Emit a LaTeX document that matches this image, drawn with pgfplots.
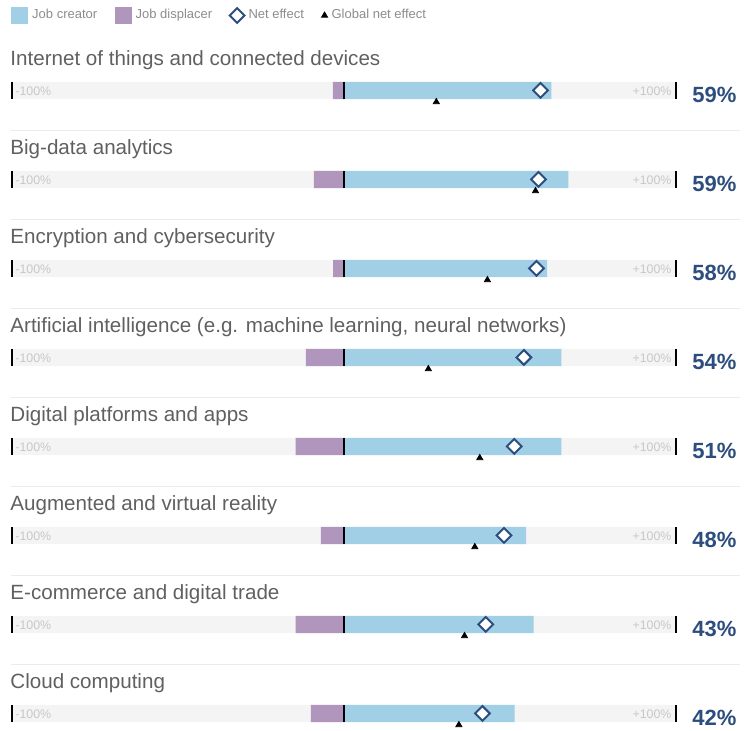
\documentclass[border=0pt]{standalone}
\usepackage{pgfplots}
\pgfplotsset{compat=1.18}
\usepackage{pgfplotstable}
\usepackage{fontspec}
\setmainfont{Liberation Sans}

\definecolor{creatorc}{HTML}{A0CFE6}
\definecolor{displc}{HTML}{B095BD}
\definecolor{bgc}{HTML}{F4F4F4}
\definecolor{netc}{HTML}{2C4D7D}
\definecolor{titlec}{HTML}{606060}
\definecolor{legc}{HTML}{8C8C8C}
\definecolor{endc}{HTML}{C8C8C8}
\definecolor{sepc}{HTML}{EBEBEB}

% net effect of each technology, in %
\pgfplotstableread{
row disp creator net global
1  -3.3  62.6  59.3  27.9
2  -9.0  67.7  58.7  57.8
3  -3.2  61.3  58.1  43.3
4  -11.4 65.6  54.3  25.5
5  -14.5 65.6  51.4  41.0
6  -6.9  55.0  48.3  39.5
7  -14.5 57.2  42.8  36.4
8  -9.9  51.5  41.8  34.7
}\datatable

\tikzset{
  netmark/.style={only marks, mark=square*, mark size=2.6pt,
    mark options={rotate=45, fill=white, draw=netc, line width=1pt}},
  globmark/.style={only marks, mark=triangle*, mark size=1.75pt,
    mark options={fill=black, draw=black}},
}

\begin{document}
\begin{tikzpicture}
\begin{axis}[
  scale only axis, width=376.5pt, height=365.5pt,
  xmin=-103.62, xmax=123.36, ymin=-0.0157, ymax=8.1978,
  y dir=reverse, axis lines=none, clip=false,
  legend columns=-1,
  legend style={at={(0.0146,0.9788)}, anchor=west, draw=none, fill=none,
    inner sep=0pt, font=\fontsize{6.5}{7}\selectfont, text=legc,
    nodes={inner xsep=2pt, inner ysep=0pt},
    /tikz/every even column/.append style={column sep=6.8pt}},
  legend cell align=left]

% keep the whole canvas as the bounding box
\path (rel axis cs:0,0) rectangle (rel axis cs:1,1);

% grey background track
\addplot[xbar, bar width=0.194, bar shift=0pt, fill=bgc, draw=none, forget plot]
  coordinates {(100,1)(100,2)(100,3)(100,4)(100,5)(100,6)(100,7)(100,8)};
\addplot[xbar, bar width=0.194, bar shift=0pt, fill=bgc, draw=none, forget plot]
  coordinates {(-100,1)(-100,2)(-100,3)(-100,4)(-100,5)(-100,6)(-100,7)(-100,8)};

\addplot[xbar, bar width=0.194, bar shift=0pt, fill=creatorc, draw=none,
  legend image code/.code={\fill[creatorc] (0pt,-4.2pt) rectangle (8.4pt,4.2pt);}]
  table[x=creator, y=row] {\datatable};
\addlegendentry{Job creator}
\addplot[xbar, bar width=0.194, bar shift=0pt, fill=displc, draw=none,
  legend image code/.code={\fill[displc] (0pt,-4.2pt) rectangle (8.4pt,4.2pt);}]
  table[x=disp, y=row] {\datatable};
\addlegendentry{Job displacer}

\pgfplotsinvokeforeach{1,...,8}{
  \draw[line width=1pt] (axis cs:0,#1-0.097) -- (axis cs:0,#1+0.097);
  \draw[line width=1pt] (axis cs:-100,#1-0.097) -- (axis cs:-100,#1+0.097);
  \draw[line width=1pt] (axis cs:100,#1-0.097) -- (axis cs:100,#1+0.097);
  \node[anchor=west, inner sep=0pt, text=endc, font=\fontsize{6.2}{7}\selectfont]
    at (axis cs:-99.1,#1+0.01) {-100\%};
  \node[anchor=east, inner sep=0pt, text=endc, font=\fontsize{6.2}{7}\selectfont]
    at (axis cs:98.9,#1+0.01) {+100\%};
}
\pgfplotsinvokeforeach{1,...,7}{
  \draw[sepc, line width=0.5pt] (axis cs:-100.3,#1+0.449) -- (axis cs:119.4,#1+0.449);
}

\addplot[only marks, mark=square*, mark size=2.6pt,
  mark options={rotate=45, fill=white, draw=netc, line width=1pt},
  legend image code/.code={\draw[netmark] plot coordinates {(4.5pt,0pt)};}]
  table[x=net, y=row] {\datatable};
\addlegendentry{Net effect}
\addplot[only marks, mark=triangle*, mark size=1.75pt,
  mark options={fill=black, draw=black},
  legend image code/.code={\draw[globmark] plot coordinates {(2pt,0pt)};}]
  table[x=global, y expr=\thisrow{row}+0.13] {\datatable};
\addlegendentry{Global net effect}

% row titles
\begin{scope}[every node/.style={anchor=base west, inner sep=0pt, text=titlec,
    font=\fontsize{10.3}{12}\selectfont}]
\node at (axis cs:-100.6,1-0.279) {Internet of things and connected devices};
\node at (axis cs:-100.6,2-0.279) {Big-data analytics};
\node at (axis cs:-100.6,3-0.279) {Encryption and cybersecurity};
\node at (axis cs:-100.6,4-0.279) {Artificial intelligence (e.g. machine learning, neural networks)};
\node at (axis cs:-100.6,5-0.279) {Digital platforms and apps};
\node at (axis cs:-100.6,6-0.279) {Augmented and virtual reality};
\node at (axis cs:-100.6,7-0.279) {E-commerce and digital trade};
\node at (axis cs:-100.6,8-0.279) {Cloud computing};
\end{scope}

% net effect values
\begin{scope}[every node/.style={anchor=base west, inner sep=0pt, text=netc,
    font=\fontsize{11}{12}\selectfont\bfseries}]
\node at (axis cs:104.97,1+0.133) {59\%};
\node at (axis cs:104.97,2+0.133) {59\%};
\node at (axis cs:104.97,3+0.133) {58\%};
\node at (axis cs:104.97,4+0.133) {54\%};
\node at (axis cs:104.97,5+0.133) {51\%};
\node at (axis cs:104.97,6+0.133) {48\%};
\node at (axis cs:104.97,7+0.133) {43\%};
\node at (axis cs:104.97,8+0.133) {42\%};
\end{scope}
\end{axis}
\end{tikzpicture}
\end{document}
